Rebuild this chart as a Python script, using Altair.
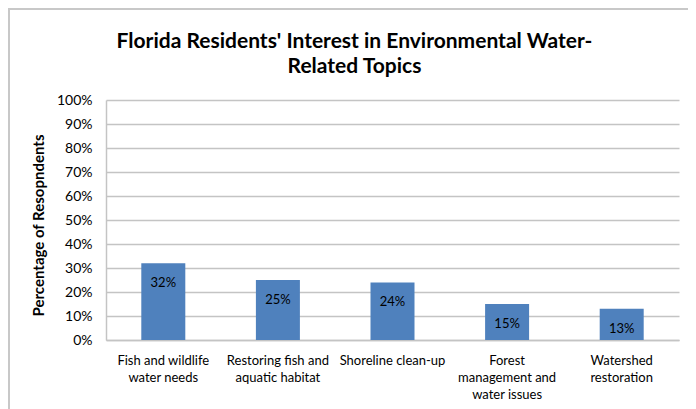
import altair as alt
import pandas as pd

categories = [
    "Fish and wildlife|water needs",
    "Restoring fish and|aquatic habitat",
    "Shoreline clean-up",
    "Forest|management and|water issues",
    "Watershed|restoration",
]
values = [32, 25, 24, 15, 13]
labels = ["32%", "25%", "24%", "15%", "13%"]
y_ticks = [0, 10, 20, 30, 40, 50, 60, 70, 80, 90, 100]

df = pd.DataFrame({"topic": categories, "pct": values, "label": labels})

FONT = "Lato"
GRID = "#C4C4C4"

x = alt.X(
    "topic:N",
    sort=None,
    scale=alt.Scale(paddingInner=0, paddingOuter=0),
    axis=alt.Axis(
        title=None,
        labelAngle=0,
        labelExpr="split(datum.label, '|')",
        labelFont=FONT,
        labelFontSize=13,
        labelColor="#000000",
        labelLineHeight=17,
        labelPadding=14,
        labelLimit=0,
        ticks=False,
        domainColor=GRID,
        domainWidth=1.5,
    ),
)
y = alt.Y(
    "pct:Q",
    scale=alt.Scale(domain=[0, 100], nice=False),
    axis=alt.Axis(
        values=y_ticks,
        labelExpr="datum.value + '%'",
        labelFont=FONT,
        labelFontSize=14,
        labelColor="#000000",
        labelPadding=14,
        ticks=False,
        domainColor=GRID,
        domainWidth=1.5,
        grid=True,
        gridColor=GRID,
        gridWidth=1.5,
        title="Percentage of Resopndents",
        titleFont=FONT,
        titleFontSize=15,
        titleFontWeight="bold",
        titleColor="#000000",
        titleX=-60,
        titleY=125,
        titleAlign="center",
    ),
)

bars = alt.Chart(df).mark_bar(width=44, color="#4F81BD").encode(x=x, y=y)
text = alt.Chart(df).mark_text(
    dy=20, font=FONT, fontSize=13, color="#000000", baseline="middle"
).encode(x=x, y=y, text="label:N")

frame_df = pd.DataFrame({"a": [0]})
top_line = alt.Chart(frame_df).mark_rule(color="#C8C8C8", strokeWidth=2).encode(
    x=alt.value(-98), x2=alt.value(600), y=alt.value(-91)
)
left_line = alt.Chart(frame_df).mark_rule(color="#C8C8C8", strokeWidth=2).encode(
    x=alt.value(-97), y=alt.value(-92), y2=alt.value(320)
)

chart = (
    alt.layer(bars, text, top_line, left_line)
    .properties(
        width=573,
        height=240,
        autosize=alt.AutoSizeParams(type="none"),
        padding={"left": 98, "top": 92, "right": 9, "bottom": 69},
        title=alt.TitleParams(
            ["Florida Residents' Interest in Environmental Water-", "Related Topics"],
            font=FONT,
            fontSize=21,
            fontWeight="bold",
            color="#000000",
            lineHeight=25,
            anchor="middle",
            baseline="top",
            dx=-38,
            offset=-70,
        ),
    )
    .configure_view(stroke=None)
)

chart.save("out.html", embed_options={"renderer": "svg", "actions": False})
